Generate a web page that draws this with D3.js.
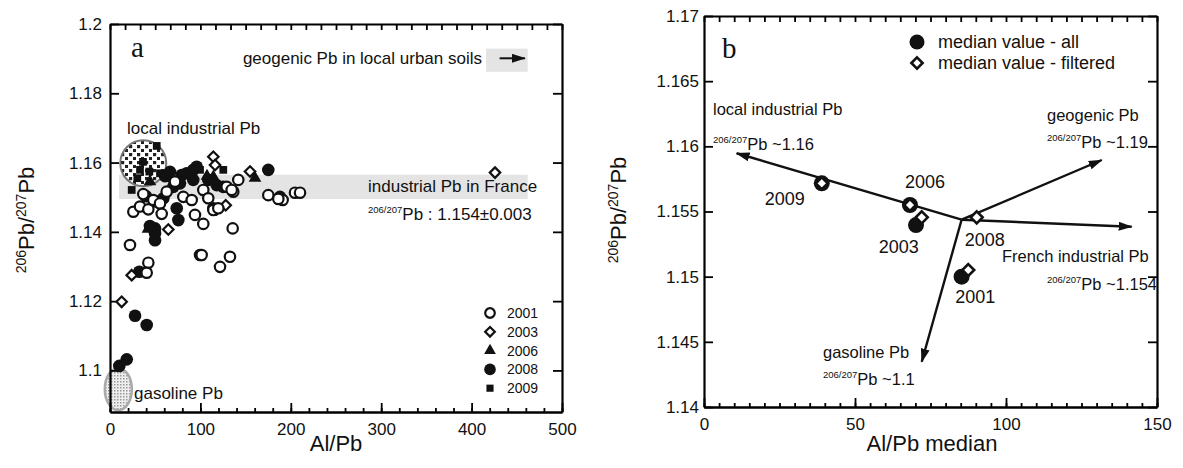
<!DOCTYPE html>
<html>
<head>
<meta charset="utf-8">
<script src="https://cdn.jsdelivr.net/npm/d3@7"></script>
<style>
  body { margin: 0; background: #fff; }
  text { font-family: "Liberation Sans", Arial, sans-serif; fill: #111; }
</style>
</head>
<body>
<svg id="chart" width="1183" height="468"></svg>
<script>
// ---- Panel a data: [Al/Pb, 206Pb/207Pb] per sampling year ----
const pts2001 = [[22.1,1.1362],[42.4,1.1311],[40.6,1.1282],[99.6,1.1333],[36.8,1.1509],[25.8,1.1458],
  [33.2,1.1473],[42.4,1.1465],[47.9,1.1492],[55.3,1.1482],[57.2,1.1452],[62.7,1.1516],[71.9,1.1545],
  [81.1,1.1501],[90.4,1.1492],[94.0,1.1449],[103.2,1.1521],[103.2,1.1423],[108.7,1.1497],[114.3,1.1463],
  [119.8,1.1468],[129.1,1.1530],[136.4,1.1516],[141.9,1.1550],[101.4,1.1333],[121.7,1.1299],[132.7,1.1328],
  [135.7,1.1410],[175.1,1.1506],[191.0,1.1492],[204.6,1.1513],[210.2,1.1513],[134.6,1.1521],[186.2,1.1495]];
const pts2003 = [[12.9,1.1198],[24.0,1.1275],[64.5,1.1407],[114.3,1.1617],[116.2,1.1593],[154.9,1.1574],
  [118.0,1.1465],[128.0,1.1477],[425.9,1.1571]];
const pts2006 = [[44.2,1.1545],[160.4,1.1555],[114.3,1.1559],[42.0,1.1408],[107.3,1.1561]];
const pts2008 = [[27.7,1.1158],[40.6,1.1131],[18.5,1.1032],[10.3,1.1013],[32.4,1.1285],[49.8,1.1396],
  [49.8,1.1376],[49.8,1.1410],[59.0,1.1497],[70.0,1.1530],[79.3,1.1564],[84.8,1.1569],[92.1,1.1579],
  [95.9,1.1588],[77.4,1.1540],[73.8,1.1468],[75.6,1.1434],[118.0,1.1535],[125.3,1.1530],[175.1,1.1579],
  [188.0,1.1501],[108.7,1.1550],[92.1,1.1550],[114.3,1.1468],[60.8,1.1561],[66.4,1.1573],[49.8,1.1488],
  [39.8,1.1503],[44.2,1.1417]];
const pts2009 = [[51.7,1.1648],[33.2,1.1579],[30.2,1.1555],[43.5,1.1574],[55.3,1.1569],[24.0,1.1521],
  [62.7,1.1555],[99.6,1.1579],[125.3,1.1579],[36.5,1.1602]];
const yearsA = ["2001", "2003", "2006", "2008", "2009"];

const xTicksA = [0, 100, 200, 300, 400, 500];
const yTicksA = [1.1, 1.12, 1.14, 1.16, 1.18, 1.2];

// ---- Panel b data: medians per year ----
const yearsB = ["2001", "2003", "2006", "2008", "2009"];
const allX  = [85.3, 70.2, 68.2, null, 39.0];
const allY  = [1.1500, 1.15396, 1.1555, null, 1.15716];
const filtX = [87.5, 72.1, 68.2, 90.3, 39.0];
const filtY = [1.15051, 1.15455, 1.1555, 1.15455, 1.15716];

// mixing end-members (arrows start at a common point)
const arrowOrigin = [85.3, 1.15437];
const endNames  = ["local industrial Pb", "geogenic Pb", "French industrial Pb", "gasoline Pb"];
const endRatios = ["~1.16", "~1.19", "~1.154", "~1.1"];
const tipX = [10.8, 131.7, 141.6, 72.1];
const tipY = [1.15947, 1.15895, 1.15383, 1.14347];

const xTicksB = [0, 50, 100, 150];
const yTicksB = [1.14, 1.145, 1.15, 1.155, 1.16, 1.165, 1.17];

// ---- Setup ----
const FONT = "'Liberation Sans', Arial, sans-serif";
const svg = d3.select("#chart");
const defs = svg.append("defs");

// checker hatch for local industrial Pb
const chk = defs.append("pattern").attr("id", "chk")
  .attr("patternUnits", "userSpaceOnUse").attr("width", 8).attr("height", 8);
chk.append("rect").attr("width", 8).attr("height", 8).attr("fill", "#fff");
chk.append("rect").attr("x", 1).attr("y", 1).attr("width", 3.2).attr("height", 3.2).attr("fill", "#222");
chk.append("rect").attr("x", 5).attr("y", 5).attr("width", 3.2).attr("height", 3.2).attr("fill", "#222");

// fine dots for gasoline Pb
const dots = defs.append("pattern").attr("id", "dots")
  .attr("patternUnits", "userSpaceOnUse").attr("width", 3).attr("height", 3);
dots.append("rect").attr("width", 3).attr("height", 3).attr("fill", "#eee");
dots.append("rect").attr("width", 1.5).attr("height", 1.5).attr("fill", "#999");

defs.append("marker").attr("id", "arr")
  .attr("viewBox", "0 0 14 9").attr("refX", 13).attr("refY", 4.5)
  .attr("markerWidth", 14).attr("markerHeight", 9)
  .attr("markerUnits", "userSpaceOnUse").attr("orient", "auto")
  .append("path").attr("d", "M0,0 L14,4.5 L0,9 Z").attr("fill", "#111");

// Scales
const xA = d3.scaleLinear().domain([0, 500]).range([110, 562]);
const yA = d3.scaleLinear().domain([1.088, 1.2]).range([412, 24]);
const xB = d3.scaleLinear().domain([0, 150]).range([704, 1157]);
const yB = d3.scaleLinear().domain([1.14, 1.17]).range([407, 16]);

// Superscripted isotope text: "206/207" + rest
function isoText(g, x, y, rest, size) {
  const t = g.append("text").attr("x", x).attr("y", y).attr("font-size", size);
  t.append("tspan").attr("font-size", 9.5).attr("dy", -size * 0.4).text("206/207");
  t.append("tspan").attr("dy", size * 0.4).text(rest);
  return t;
}

// Rotated y title  206Pb/207Pb
function yTitle(g, x, y) {
  const t = g.append("text").attr("transform", `translate(${x},${y}) rotate(-90)`)
    .attr("text-anchor", "middle").attr("font-size", 22);
  t.append("tspan").attr("font-size", 14).attr("dy", -8).text("206");
  t.append("tspan").attr("dy", 8).text("Pb/");
  t.append("tspan").attr("font-size", 14).attr("dy", -8).text("207");
  t.append("tspan").attr("dy", 8).text("Pb");
}

// Framed axes with inward ticks
function drawFrame(g, x, y, o) {
  const [x0, x1] = x.range(), [y0, y1] = y.range();
  const style = a => a.call(s => s.select(".domain").attr("stroke-width", 2.2))
    .call(s => s.selectAll(".tick line").attr("stroke-width", 1.8))
    .call(s => s.selectAll("text").attr("font-size", 17).attr("font-family", FONT).attr("fill", "#111"));

  g.append("g").attr("transform", `translate(0,${y0})`)
    .call(d3.axisBottom(x).tickValues(o.xMinor).tickSize(-4).tickSizeOuter(0).tickFormat(""))
    .call(style);
  g.append("g").attr("transform", `translate(0,${y0})`)
    .call(d3.axisBottom(x).tickValues(o.xMajor).tickSize(-9).tickSizeOuter(0).tickPadding(11).tickFormat(d3.format("d")))
    .call(style);
  g.append("g").attr("transform", `translate(0,${y1})`)
    .call(d3.axisTop(x).tickValues(o.xTop).tickSize(-6).tickSizeOuter(0).tickFormat(""))
    .call(style);
  g.append("g").attr("transform", `translate(${x0},0)`)
    .call(d3.axisLeft(y).tickValues(o.yMajor).tickSize(-9).tickSizeOuter(0).tickPadding(o.yPad).tickFormat(o.yFmt))
    .call(style);
  g.append("g").attr("transform", `translate(${x1},0)`)
    .call(d3.axisRight(y).tickValues(o.yMajor).tickSize(-9).tickSizeOuter(0).tickFormat(""))
    .call(style);
}

// ================= Panel a =================
const ga = svg.append("g");

// grey reference bands
ga.append("rect")
  .attr("x", xA(10)).attr("width", xA(462) - xA(10))
  .attr("y", yA(1.1565)).attr("height", yA(1.1495) - yA(1.1565))
  .attr("fill", "#e4e4e4");
ga.append("rect")
  .attr("x", xA(416)).attr("width", xA(462) - xA(416))
  .attr("y", yA(1.1929)).attr("height", yA(1.1862) - yA(1.1929))
  .attr("fill", "#e4e4e4");
ga.append("line")
  .attr("x1", xA(431)).attr("x2", xA(459))
  .attr("y1", yA(1.1901)).attr("y2", yA(1.1901))
  .attr("stroke", "#111").attr("stroke-width", 2).attr("marker-end", "url(#arr)");

// end-member fields
ga.append("circle").attr("cx", xA(36.8)).attr("cy", yA(1.1598)).attr("r", 23)
  .attr("fill", "url(#chk)").attr("stroke", "#777").attr("stroke-width", 2);
ga.append("ellipse").attr("cx", xA(9.2)).attr("cy", yA(1.0946)).attr("rx", 13.5).attr("ry", 21)
  .attr("fill", "url(#dots)").attr("stroke", "#aaa").attr("stroke-width", 2.5);

drawFrame(ga, xA, yA, {
  xMajor: xTicksA, xMinor: d3.range(0, 501, 20), xTop: d3.range(0, 500.1, 500 / 30),
  yMajor: yTicksA, yFmt: d3.format(".2~f"), yPad: 8
});

// symbol per year
const symA = {
  "2001": { type: d3.symbolCircle, size: 85, fill: "#fff", stroke: 2.2 },
  "2003": { type: d3.symbolDiamond2, size: 70, fill: "#fff", stroke: 2.2 },
  "2006": { type: d3.symbolTriangle, size: 70, fill: "#111", stroke: 0 },
  "2008": { type: d3.symbolCircle, size: 125, fill: "#111", stroke: 0 },
  "2009": { type: d3.symbolSquare, size: 60, fill: "#111", stroke: 0 }
};
const seriesA = { "2001": pts2001, "2003": pts2003, "2006": pts2006, "2008": pts2008, "2009": pts2009 };
const drawOrderA = ["2009", "2008", "2006", "2003", "2001"];

drawOrderA.forEach(yr => {
  const s = symA[yr];
  ga.append("g").selectAll("path")
    .data(seriesA[yr])
    .join("path")
    .attr("transform", d => `translate(${xA(d[0])},${yA(d[1])})`)
    .attr("d", d3.symbol(s.type, s.size))
    .attr("fill", s.fill)
    .attr("stroke", "#111")
    .attr("stroke-width", s.stroke);
});

// legend
const legA = ga.append("g");
yearsA.forEach((yr, i) => {
  const s = symA[yr];
  const ly = 313 + i * 18.8;
  legA.append("path").attr("transform", `translate(490,${ly})`)
    .attr("d", d3.symbol(s.type, s.size * 0.85))
    .attr("fill", s.fill).attr("stroke", "#111").attr("stroke-width", s.stroke);
  legA.append("text").attr("x", 507).attr("y", ly + 5).attr("font-size", 14).text(yr);
});

// annotations
ga.append("text").attr("x", 131).attr("y", 57).attr("font-size", 29)
  .style("font-family", "'Liberation Serif', 'DejaVu Serif', serif").text("a");
ga.append("text").attr("x", 482).attr("y", 64).attr("font-size", 17)
  .attr("text-anchor", "end").text("geogenic Pb in local urban soils");
ga.append("text").attr("x", 127).attr("y", 134).attr("font-size", 17).text("local industrial Pb");
ga.append("text").attr("x", 368).attr("y", 192).attr("font-size", 17).text("industrial Pb in France");
isoText(ga, 368, 220, "Pb : 1.154±0.003", 17);
ga.append("text").attr("x", 134).attr("y", 399).attr("font-size", 17).text("gasoline Pb");

yTitle(ga, 34, 220);
ga.append("text").attr("x", 336).attr("y", 451).attr("text-anchor", "middle")
  .attr("font-size", 22).text("Al/Pb");

// ================= Panel b =================
const gb = svg.append("g");

drawFrame(gb, xB, yB, {
  xMajor: xTicksB, xMinor: d3.range(0, 151, 5), xTop: d3.range(0, 151, 5),
  yMajor: yTicksB, yFmt: d3.format(".3~f"), yPad: 5
});

// mixing arrows
endNames.forEach((n, i) => {
  gb.append("line")
    .attr("x1", xB(arrowOrigin[0])).attr("y1", yB(arrowOrigin[1]))
    .attr("x2", xB(tipX[i])).attr("y2", yB(tipY[i]))
    .attr("stroke", "#111").attr("stroke-width", 2.4)
    .attr("marker-end", "url(#arr)");
});

// medians: all (filled circles) under filtered (diamonds)
const medAll = yearsB.map((y, i) => ({ year: y, x: allX[i], y: allY[i] })).filter(d => d.x != null);
const medFilt = yearsB.map((y, i) => ({ year: y, x: filtX[i], y: filtY[i] }));

gb.append("g").selectAll("circle")
  .data(medAll)
  .join("circle")
  .attr("cx", d => xB(d.x)).attr("cy", d => yB(d.y)).attr("r", 8)
  .attr("fill", "#111");

gb.append("g").selectAll("path")
  .data(medFilt)
  .join("path")
  .attr("transform", d => `translate(${xB(d.x)},${yB(d.y)})`)
  .attr("d", d3.symbol(d3.symbolDiamond2, 90))
  .attr("fill", "#fff").attr("stroke", "#111").attr("stroke-width", 2.6);

// year labels (offsets from the filtered marker)
const yearLabelOffset = {
  "2001": [-13, 33], "2003": [-43, 36], "2006": [-5, -17], "2008": [-12, 29], "2009": [-57, 22]
};
gb.append("g").selectAll("text")
  .data(medFilt)
  .join("text")
  .attr("x", d => xB(d.x) + yearLabelOffset[d.year][0])
  .attr("y", d => yB(d.y) + yearLabelOffset[d.year][1])
  .attr("font-size", 18)
  .text(d => d.year);

// end-member labels
const endLabelPos = [[713, 115, 713, 150], [1047, 121, 1047, 148], [1002, 262, 1047, 290], [823, 358, 823, 385]];
endNames.forEach((n, i) => {
  const p = endLabelPos[i];
  gb.append("text").attr("x", p[0]).attr("y", p[1]).attr("font-size", 16.5).text(n);
  isoText(gb, p[2], p[3], "Pb " + endRatios[i], 16.5);
});

// legend
gb.append("circle").attr("cx", 917).attr("cy", 42).attr("r", 7.5).attr("fill", "#111");
gb.append("text").attr("x", 938).attr("y", 48).attr("font-size", 18).text("median value - all");
gb.append("path").attr("transform", "translate(917,63)")
  .attr("d", d3.symbol(d3.symbolDiamond2, 80))
  .attr("fill", "#fff").attr("stroke", "#111").attr("stroke-width", 2.6);
gb.append("text").attr("x", 938).attr("y", 69).attr("font-size", 18).text("median value - filtered");

gb.append("text").attr("x", 722).attr("y", 58).attr("font-size", 29)
  .style("font-family", "'Liberation Serif', 'DejaVu Serif', serif").text("b");

yTitle(gb, 626, 210);
gb.append("text").attr("x", 932).attr("y", 451).attr("text-anchor", "middle")
  .attr("font-size", 22).text("Al/Pb median");
</script>
</body>
</html>
